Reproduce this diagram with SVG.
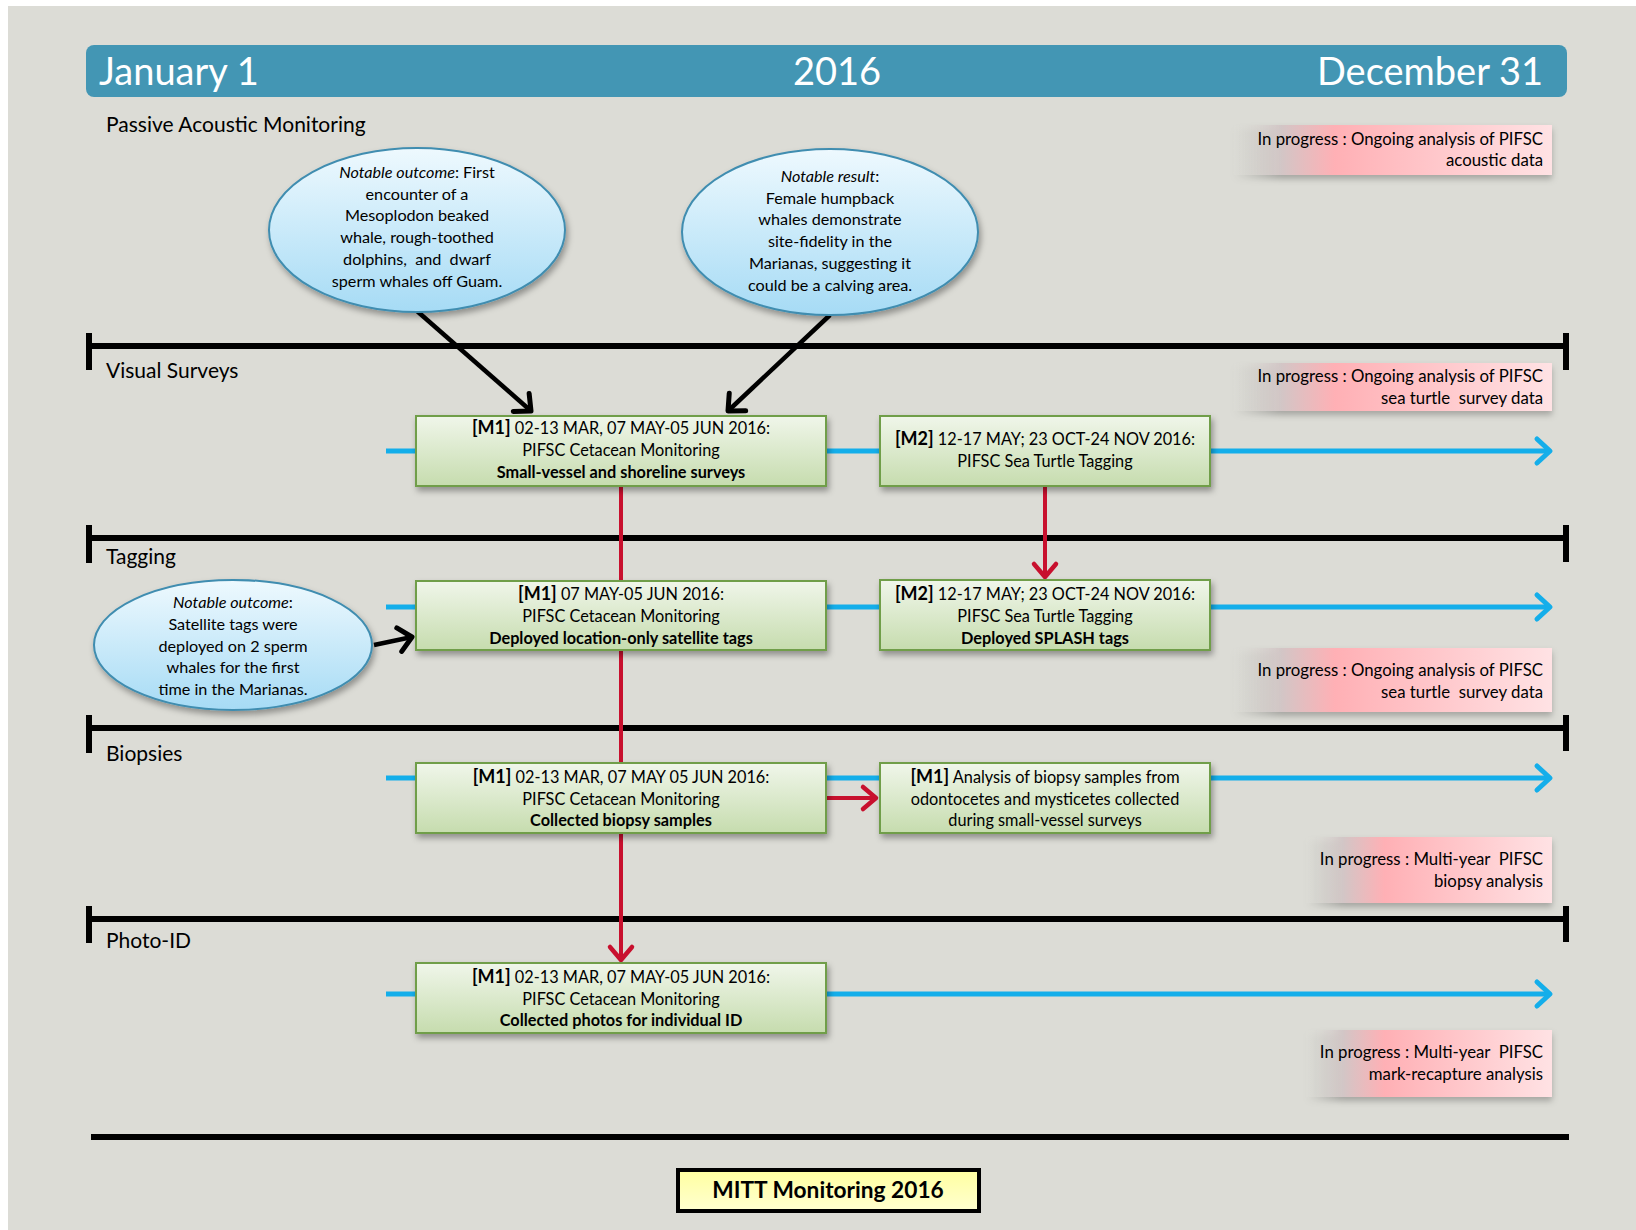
<svg xmlns="http://www.w3.org/2000/svg" width="1636" height="1230" viewBox="0 0 1636 1230">
<defs>
<style>
text{font-family:Lato,"Liberation Sans",sans-serif;fill:#000;white-space:pre}
.hdr{fill:#fff;font-size:38px}
.sec{font-size:21px}
.bt{font-size:16.3px;text-anchor:middle}
.et{font-size:16.2px;text-anchor:middle}
.pt{font-size:16.8px;text-anchor:end}
.b{font-weight:bold}
.m{font-weight:bold;font-size:18px}
.i{font-style:italic}
.bar{stroke:#000;stroke-width:6;fill:none}
.blue{stroke:#14aeea;stroke-width:5;fill:none}
.red{stroke:#c8102e;stroke-width:4;fill:none}
.blk{stroke:#000;stroke-width:4.5;fill:none}
.box{fill:url(#gGreen);stroke:#6f9e48;stroke-width:2;filter:url(#sh)}
.ell{fill:url(#gBlue);stroke:#3f8db0;stroke-width:2;filter:url(#sh)}
.pink{fill:url(#gPink);filter:url(#sh2)}
</style>
<linearGradient id="gGreen" x1="0" y1="0" x2="0" y2="1">
<stop offset="0" stop-color="#f0f6ea"/><stop offset="1" stop-color="#c6dcae"/>
</linearGradient>
<linearGradient id="gBlue" x1="0" y1="0" x2="0" y2="1">
<stop offset="0" stop-color="#eef9fe"/><stop offset="1" stop-color="#a6dbf5"/>
</linearGradient>
<linearGradient id="gPink" x1="0" y1="0" x2="1" y2="0">
<stop offset="0" stop-color="#dcdcd6" stop-opacity="0"/><stop offset="0.15" stop-color="#d2c6c6"/><stop offset="0.32" stop-color="#ffb0b5"/><stop offset="1" stop-color="#ffe2e4"/>
</linearGradient>
<linearGradient id="gYel" x1="0" y1="0" x2="0" y2="1">
<stop offset="0" stop-color="#ffffa0"/><stop offset="1" stop-color="#ffffd0"/>
</linearGradient>
<filter id="sh" x="-10%" y="-10%" width="130%" height="140%">
<feDropShadow dx="2" dy="4" stdDeviation="3" flood-color="#000" flood-opacity="0.35"/>
</filter>
<filter id="sh2" x="-10%" y="-10%" width="130%" height="150%">
<feDropShadow dx="0" dy="4" stdDeviation="3" flood-color="#000" flood-opacity="0.25"/>
</filter>
<marker id="aBlk" viewBox="-16 -14 20 28" markerWidth="20" markerHeight="28" refX="0" refY="0" orient="auto" markerUnits="userSpaceOnUse" overflow="visible">
<path d="M-13,-12 L0,0 L-13,12" fill="none" stroke="#000" stroke-width="5" stroke-linecap="round" stroke-linejoin="round"/>
</marker>
<marker id="aBlue" viewBox="-16 -14 20 28" markerWidth="20" markerHeight="28" refX="0" refY="0" orient="auto" markerUnits="userSpaceOnUse" overflow="visible">
<path d="M-13,-12 L0,0 L-13,12" fill="none" stroke="#14aeea" stroke-width="5" stroke-linecap="round" stroke-linejoin="round"/>
</marker>
<marker id="aRed" viewBox="-16 -14 20 28" markerWidth="20" markerHeight="28" refX="0" refY="0" orient="auto" markerUnits="userSpaceOnUse" overflow="visible">
<path d="M-13,-11 L0,0 L-13,11" fill="none" stroke="#c8102e" stroke-width="4.5" stroke-linecap="round" stroke-linejoin="round"/>
</marker>
</defs>

<rect x="0" y="0" width="1636" height="1230" fill="#fff"/>
<rect x="8" y="6" width="1628" height="1224" fill="#dcdcd6"/>

<g id="header">
<rect x="86" y="45" width="1481" height="52" rx="8" fill="#4396b4"/>
<text class="hdr" x="99" y="85">January 1</text>
<text class="hdr" x="837" y="85" text-anchor="middle">2016</text>
<text class="hdr" x="1543" y="85" text-anchor="end">December 31</text>
</g>

<g id="timeline-bars">
<line class="bar" x1="89" y1="346" x2="1569" y2="346"/>
<line class="bar" x1="89" y1="333" x2="89" y2="370"/>
<line class="bar" x1="1566" y1="333" x2="1566" y2="370"/>
<line class="bar" x1="89" y1="538" x2="1569" y2="538"/>
<line class="bar" x1="89" y1="525" x2="89" y2="563"/>
<line class="bar" x1="1566" y1="525" x2="1566" y2="562"/>
<line class="bar" x1="89" y1="728" x2="1569" y2="728"/>
<line class="bar" x1="89" y1="715" x2="89" y2="753"/>
<line class="bar" x1="1566" y1="715" x2="1566" y2="751"/>
<line class="bar" x1="89" y1="919" x2="1569" y2="919"/>
<line class="bar" x1="89" y1="906" x2="89" y2="943"/>
<line class="bar" x1="1566" y1="906" x2="1566" y2="942"/>
<line class="bar" x1="91" y1="1137" x2="1569" y2="1137"/>
</g>

<g id="section-labels">
<text class="sec" x="106" y="132">Passive Acoustic Monitoring</text>
<text class="sec" x="106" y="378">Visual Surveys</text>
<text class="sec" x="106" y="564">Tagging</text>
<text class="sec" x="106" y="761">Biopsies</text>
<text class="sec" x="106" y="948">Photo-ID</text>
</g>

<g id="connectors">
<line class="blue" x1="386" y1="451" x2="416" y2="451"/>
<line class="blue" x1="826" y1="451" x2="880" y2="451"/>
<line class="blue" x1="1210" y1="451" x2="1550" y2="451" marker-end="url(#aBlue)"/>
<line class="blue" x1="386" y1="607" x2="416" y2="607"/>
<line class="blue" x1="826" y1="607" x2="880" y2="607"/>
<line class="blue" x1="1210" y1="607" x2="1550" y2="607" marker-end="url(#aBlue)"/>
<line class="blue" x1="386" y1="778" x2="416" y2="778"/>
<line class="blue" x1="826" y1="778" x2="880" y2="778"/>
<line class="blue" x1="1210" y1="778" x2="1550" y2="778" marker-end="url(#aBlue)"/>
<line class="blue" x1="386" y1="994" x2="416" y2="994"/>
<line class="blue" x1="826" y1="994" x2="1550" y2="994" marker-end="url(#aBlue)"/>
<line class="red" x1="621" y1="486" x2="621" y2="581"/>
<line class="red" x1="621" y1="650" x2="621" y2="763"/>
<line class="red" x1="621" y1="833" x2="621" y2="960" marker-end="url(#aRed)"/>
<line class="red" x1="1045" y1="486" x2="1045" y2="577" marker-end="url(#aRed)"/>
<line class="red" x1="826" y1="798" x2="876" y2="798" stroke-width="5" marker-end="url(#aRed)"/>
<line class="blk" x1="417" y1="311" x2="531" y2="411" marker-end="url(#aBlk)"/>
<line class="blk" x1="830" y1="315" x2="728" y2="411" marker-end="url(#aBlk)"/>
<line class="blk" x1="374" y1="645" x2="412" y2="637" marker-end="url(#aBlk)"/>
</g>

<g id="ellipse-pam-1">
<ellipse class="ell" cx="417" cy="230" rx="148" ry="82"/>
<text class="et" x="417" y="178"><tspan class="i">Notable outcome</tspan>: First</text>
<text class="et" x="417" y="200">encounter of a</text>
<text class="et" x="417" y="221">Mesoplodon beaked</text>
<text class="et" x="417" y="243">whale, rough-toothed</text>
<text class="et" x="417" y="265">dolphins,  and  dwarf</text>
<text class="et" x="417" y="287">sperm whales off Guam.</text>
</g>

<g id="ellipse-pam-2">
<ellipse class="ell" cx="830" cy="232" rx="148" ry="83"/>
<text class="et" x="830" y="182"><tspan class="i">Notable result</tspan>:</text>
<text class="et" x="830" y="204">Female humpback</text>
<text class="et" x="830" y="225">whales demonstrate</text>
<text class="et" x="830" y="247">site-fidelity in the</text>
<text class="et" x="830" y="269">Marianas, suggesting it</text>
<text class="et" x="830" y="291">could be a calving area.</text>
</g>

<g id="ellipse-tagging">
<ellipse class="ell" cx="233" cy="645" rx="139" ry="65"/>
<text class="et" x="233" y="608"><tspan class="i">Notable outcome</tspan>:</text>
<text class="et" x="233" y="630">Satellite tags were</text>
<text class="et" x="233" y="652">deployed on 2 sperm</text>
<text class="et" x="233" y="673">whales for the first</text>
<text class="et" x="233" y="695">time in the Marianas.</text>
</g>

<g id="box-visual-m1">
<rect class="box" x="416" y="416" width="410" height="70"/>
<text class="bt" x="621" y="434"><tspan class="m">[M1]</tspan> 02-13 MAR, 07 MAY-05 JUN 2016:</text>
<text class="bt" x="621" y="456">PIFSC Cetacean Monitoring</text>
<text class="bt b" x="621" y="478">Small-vessel and shoreline surveys</text>
</g>

<g id="box-visual-m2">
<rect class="box" x="880" y="416" width="330" height="70"/>
<text class="bt" x="1045" y="445"><tspan class="m">[M2]</tspan> 12-17 MAY; 23 OCT-24 NOV 2016:</text>
<text class="bt" x="1045" y="467">PIFSC Sea Turtle Tagging</text>
</g>

<g id="box-tagging-m1">
<rect class="box" x="416" y="581" width="410" height="69"/>
<text class="bt" x="621" y="600"><tspan class="m">[M1]</tspan> 07 MAY-05 JUN 2016:</text>
<text class="bt" x="621" y="622">PIFSC Cetacean Monitoring</text>
<text class="bt b" x="621" y="644">Deployed location-only satellite tags</text>
</g>

<g id="box-tagging-m2">
<rect class="box" x="880" y="580" width="330" height="70"/>
<text class="bt" x="1045" y="600"><tspan class="m">[M2]</tspan> 12-17 MAY; 23 OCT-24 NOV 2016:</text>
<text class="bt" x="1045" y="622">PIFSC Sea Turtle Tagging</text>
<text class="bt b" x="1045" y="644">Deployed SPLASH tags</text>
</g>

<g id="box-biopsy-m1">
<rect class="box" x="416" y="763" width="410" height="70"/>
<text class="bt" x="621" y="783"><tspan class="m">[M1]</tspan> 02-13 MAR, 07 MAY 05 JUN 2016:</text>
<text class="bt" x="621" y="805">PIFSC Cetacean Monitoring</text>
<text class="bt b" x="621" y="826">Collected biopsy samples</text>
</g>

<g id="box-biopsy-analysis">
<rect class="box" x="880" y="763" width="330" height="70"/>
<text class="bt" x="1045" y="783"><tspan class="m">[M1]</tspan> Analysis of biopsy samples from</text>
<text class="bt" x="1045" y="805">odontocetes and mysticetes collected</text>
<text class="bt" x="1045" y="826">during small-vessel surveys</text>
</g>

<g id="box-photo-m1">
<rect class="box" x="416" y="963" width="410" height="70"/>
<text class="bt" x="621" y="983"><tspan class="m">[M1]</tspan> 02-13 MAR, 07 MAY-05 JUN 2016:</text>
<text class="bt" x="621" y="1005">PIFSC Cetacean Monitoring</text>
<text class="bt b" x="621" y="1026">Collected photos for individual ID</text>
</g>

<g id="progress-pam">
<rect class="pink" x="1233" y="125" width="319" height="50"/>
<text class="pt" x="1543" y="145">In progress : Ongoing analysis of PIFSC</text>
<text class="pt" x="1543" y="166">acoustic data</text>
</g>
<g id="progress-visual">
<rect class="pink" x="1233" y="363" width="319" height="48"/>
<text class="pt" x="1543" y="382">In progress : Ongoing analysis of PIFSC</text>
<text class="pt" x="1543" y="404">sea turtle  survey data</text>
</g>
<g id="progress-tagging">
<rect class="pink" x="1233" y="648" width="319" height="64"/>
<text class="pt" x="1543" y="676">In progress : Ongoing analysis of PIFSC</text>
<text class="pt" x="1543" y="698">sea turtle  survey data</text>
</g>
<g id="progress-biopsy">
<rect class="pink" x="1306" y="837" width="246" height="66"/>
<text class="pt" x="1543" y="865">In progress : Multi-year  PIFSC</text>
<text class="pt" x="1543" y="887">biopsy analysis</text>
</g>
<g id="progress-photo">
<rect class="pink" x="1306" y="1030" width="246" height="67"/>
<text class="pt" x="1543" y="1058">In progress : Multi-year  PIFSC</text>
<text class="pt" x="1543" y="1080">mark-recapture analysis</text>
</g>

<g id="title-box">
<rect x="678" y="1170" width="301" height="41" fill="url(#gYel)" stroke="#000" stroke-width="4"/>
<text x="828" y="1198" text-anchor="middle" font-size="22.7" font-weight="bold">MITT Monitoring 2016</text>
</g>
</svg>
